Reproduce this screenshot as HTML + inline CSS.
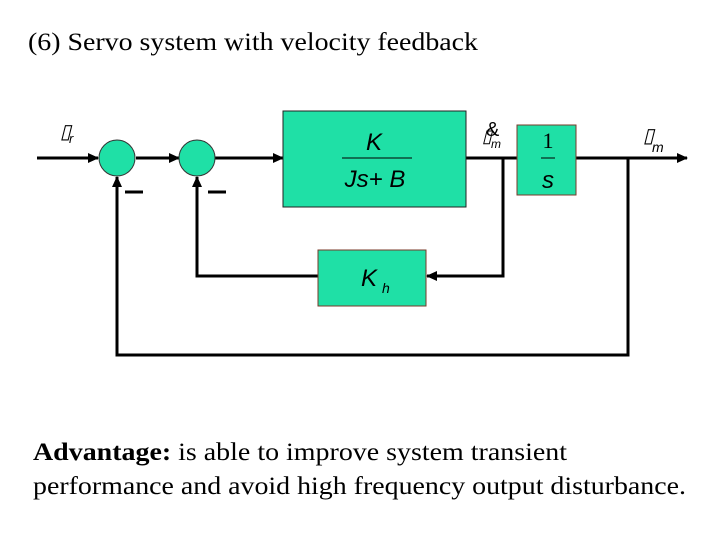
<!DOCTYPE html>
<html><head><style>
body{margin:0;background:#fff;}
svg{display:block;}
</style></head><body>
<svg width="720" height="540" viewBox="0 0 720 540" xmlns="http://www.w3.org/2000/svg">
<defs>
<marker id="a" markerWidth="12" markerHeight="12" refX="10" refY="6" orient="auto" markerUnits="userSpaceOnUse">
<path d="M0,1 L11,6 L0,11 z" fill="#000"/></marker>
</defs>
<text x="28" y="50" font-family="Liberation Serif, serif" font-size="25" fill="#000" textLength="450" lengthAdjust="spacingAndGlyphs">(6) Servo system with velocity feedback</text>
<g stroke="#000" stroke-width="3" fill="none">
<line x1="37" y1="158" x2="98" y2="158" marker-end="url(#a)"/>
<line x1="136" y1="158" x2="179" y2="158" marker-end="url(#a)"/>
<line x1="215" y1="158" x2="283" y2="158" marker-end="url(#a)"/>
<line x1="466" y1="158" x2="517" y2="158"/>
<line x1="576" y1="158" x2="687" y2="158" marker-end="url(#a)"/>
<polyline points="503,158 503,276 427,276" marker-end="url(#a)"/>
<polyline points="318,276 197,276 197,177" marker-end="url(#a)"/>
<polyline points="628,158 628,355 117,355 117,177" marker-end="url(#a)"/>
<line x1="125" y1="192" x2="143" y2="192"/>
<line x1="208" y1="192" x2="226" y2="192"/>
</g>
<g fill="#1fe0a6" stroke="#7a3a2a" stroke-width="1">
<ellipse cx="117" cy="158" rx="18" ry="18" stroke="#333"/>
<ellipse cx="197" cy="158" rx="18" ry="18" stroke="#333"/>
<rect x="283" y="111" width="183" height="96" stroke="#222"/>
<rect x="517" y="125" width="59" height="70"/>
<rect x="318" y="250" width="108" height="56"/>
</g>
<g font-family="Liberation Sans, sans-serif" font-style="italic" fill="#000">
<text x="374" y="150" font-size="24" text-anchor="middle">K</text>
<line x1="342" y1="158" x2="412" y2="158" stroke="#000" stroke-width="1"/>
<text x="375" y="187" font-size="24" text-anchor="middle">Js+ B</text>
<text x="548" y="148" font-size="22" font-style="normal" font-family="Liberation Serif, serif" text-anchor="middle">1</text>
<line x1="541" y1="158" x2="555" y2="158" stroke="#000" stroke-width="1"/>
<text x="548" y="188" font-size="24" text-anchor="middle">s</text>
<text x="361" y="286" font-size="24">K</text>
<text x="382" y="293" font-size="14">h</text>
<text x="60" y="138" font-size="20">▯</text>
<text x="69" y="143" font-size="13">r</text>
<text x="482" y="142" font-size="18">▯</text>
<text x="486" y="136" font-size="20" font-style="normal">&amp;</text>
<text x="491" y="148" font-size="12">m</text>
<text x="643" y="142" font-size="20">▯</text>
<text x="652" y="152" font-size="14">m</text>
</g>
<g font-family="Liberation Serif, serif" font-size="25" fill="#000">
<text x="33" y="460" textLength="534" lengthAdjust="spacingAndGlyphs"><tspan font-weight="bold">Advantage:</tspan> is able to improve system transient</text>
<text x="33" y="494" textLength="653" lengthAdjust="spacingAndGlyphs">performance and avoid high frequency output disturbance.</text>
</g>
</svg>
</body></html>
